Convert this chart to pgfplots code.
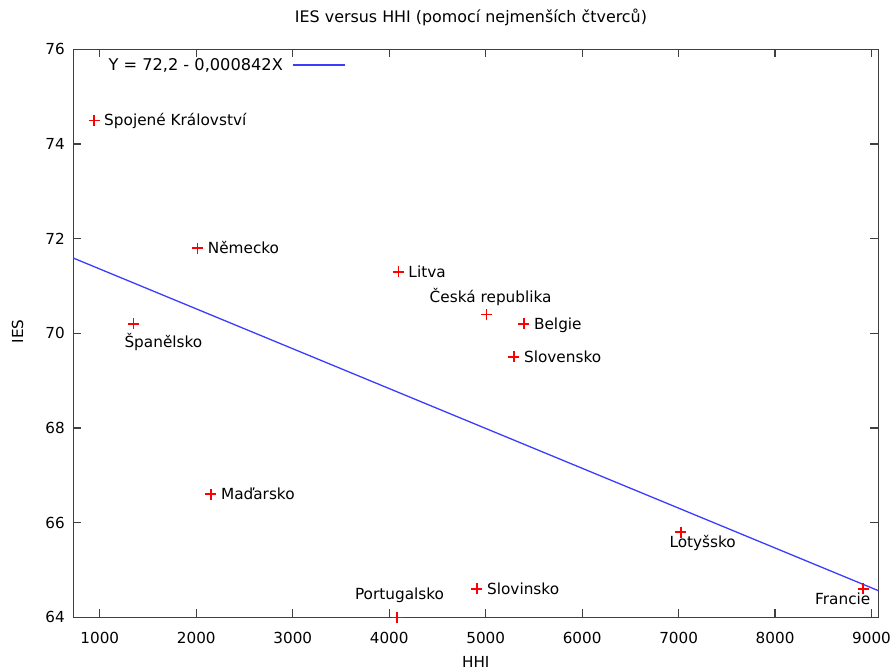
\documentclass[border=0pt]{standalone}
\usepackage{pgfplots}
\pgfplotsset{compat=1.18}
\usepackage{fontspec}
\setmainfont{DejaVu Sans}
\definecolor{axgray}{HTML}{404040}
\definecolor{lineblue}{RGB}{60,60,255}
\newcommand{\fs}{\fontsize{15.3}{18}\selectfont}
\newcommand{\fst}{\fontsize{15.2}{18}\selectfont}
\newcommand{\fsl}{\fontsize{16.2}{19}\selectfont}
\newcommand{\fstt}{\fontsize{15.9}{19}\selectfont}
\pgfplotsset{lbl/.style={forget plot, black, draw=none, mark=none, point meta=explicit symbolic, nodes near coords,
  every node near coord/.append style={font=\fs, inner sep=0pt, #1}}}
\begin{document}
\begin{tikzpicture}
\useasboundingbox (-73.3pt,-53.7pt) rectangle (819.7pt,617.3pt);
\begin{axis}[
  scale only axis, width=805pt, height=568pt,
  xmin=725, xmax=9070, ymin=64, ymax=76,
  xtick={1000,2000,...,9000}, ytick={64,66,...,76},
  tick align=inside, major tick length=8pt,
  axis line style={axgray, line width=1.5pt},
  every tick/.style={axgray, line width=1.2pt},
  tick label style={font=\fst},
  xticklabel style={yshift=-11pt},
  yticklabel style={xshift=-5pt},
  /pgf/number format/assume math mode=true,
  /pgf/number format/1000 sep={},
  clip=false,
  title={IES versus HHI (pomocí nejmenších čtverců)},
  title style={at={(axis description cs:0.494,1.045)}, anchor=center, font=\fstt},
  xlabel={HHI},
  xlabel style={at={(axis description cs:0.5,-0.0792)}, anchor=center, font=\fst},
  ylabel={IES},
  ylabel style={at={(axis description cs:-0.0693,0.503)}, anchor=center, font=\fst},
  legend plot pos=right,
  legend image code/.code={\draw[lineblue, line width=1.6pt] (0pt,0pt) -- (52pt,0pt);},
  legend style={draw=none, fill=none, at={(axis description cs:0.041,0.972)}, anchor=west,
    inner sep=0pt, font=\fsl, /tikz/column sep=7pt},
]
\addplot[lineblue, line width=1.3pt] coordinates {(725,71.5896) (9070,64.5631)};
\addlegendentry{Y = 72,2 - 0,000842X}
\addplot[forget plot, only marks, red, mark=+, mark size=5.5pt, mark options={line width=1.5pt, solid}] coordinates {
  (940,74.5) (2014,71.8) (4094,71.3) (5396,70.2) (5292,69.5) (2151,66.6) (4909,64.6)
  (1347,70.2) (7024,65.8) (8913,64.6) (5006,70.4) (4083,64.0)
};
\addplot[lbl={anchor=base west, xshift=10pt, yshift=-5.5pt}] coordinates {
  (940,74.5) [Spojené Království]
  (2014,71.8) [Německo]
  (4094,71.3) [Litva]
  (5396,70.2) [Belgie]
  (5292,69.5) [Slovensko]
  (2151,66.6) [Maďarsko]
  (4909,64.6) [Slovinsko]
};
\addplot[lbl={anchor=base west, xshift=-9pt, yshift=-23.4pt}] coordinates {(1347,70.2) [Španělsko]};
\addplot[lbl={anchor=base west, xshift=-11.6pt, yshift=-15.6pt}] coordinates {(7024,65.8) [Lotyšsko]};
\addplot[lbl={anchor=base east, xshift=7.4pt, yshift=-15.7pt}] coordinates {(8913,64.6) [Francie]};
\addplot[lbl={anchor=base, xshift=4.4pt, yshift=11.6pt}] coordinates {(5006,70.4) [Česká republika]};
\addplot[lbl={anchor=base, xshift=2.3pt, yshift=17.4pt}] coordinates {(4083,64.0) [Portugalsko]};
\end{axis}
\end{tikzpicture}
\end{document}
